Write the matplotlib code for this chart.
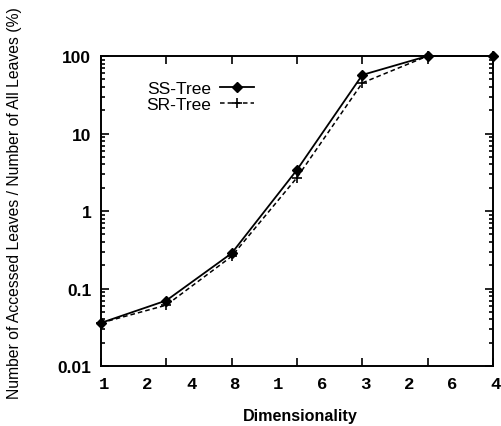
import numpy as np
import matplotlib.pyplot as plt
from matplotlib.ticker import LogLocator, NullFormatter

# leaf access ratio vs dimensionality
dims = [1, 2, 4, 8, 16, 32, 64]
ss_tree = [0.036, 0.070, 0.285, 3.4, 57, 100, 100]
sr_tree = [0.036, 0.061, 0.26, 2.7, 45, 100, 100]
ytick_vals = [0.01, 0.1, 1, 10, 100]
ytick_labels = ['0.01', '0.1', '1', '10', '100']

fig = plt.figure(figsize=(5.01, 4.27), dpi=100)
ax = fig.add_axes([0.2016, 0.1405, 0.7824, 0.726])

ax.plot(dims, ss_tree, color='black', lw=1.3, marker='D', ms=5,
        label='SS-Tree', clip_on=False, zorder=3)
ax.plot(dims, sr_tree, color='black', lw=1.1, ls=(0, (3, 2)), marker='+',
        ms=7, mew=1.2, label='SR-Tree', clip_on=False, zorder=3)

ax.set_xscale('log', base=2)
ax.set_yscale('log')
ax.set_xlim(1, 64)
ax.set_ylim(0.01, 100)

ax.set_xticks(dims)
ax.set_xticklabels([])
ax.xaxis.set_minor_locator(plt.NullLocator())
ax.set_yticks(ytick_vals)
ax.set_yticklabels(ytick_labels, fontsize=12.5, fontweight='bold',
                   family='Liberation Sans')
ax.yaxis.set_minor_locator(LogLocator(base=10, subs=np.arange(2, 10)))
ax.yaxis.set_minor_formatter(NullFormatter())
ax.tick_params(which='both', direction='in', top=True, right=True, width=1.2)
ax.tick_params(which='major', length=6, pad=7)
ax.tick_params(which='minor', length=3)
for s in ax.spines.values():
    s.set_linewidth(1.4)

# x tick digits spread evenly under the axis
chars = ''.join(str(d) for d in dims)
xs = np.linspace(104, 496, len(chars)) / 501
for c, x in zip(chars, xs):
    fig.text(x, 1 - 385 / 427, c, ha='center', va='center', fontsize=12.5,
             fontweight='bold', family='Liberation Mono')

fig.text(300 / 501, 1 - 417 / 427, 'Dimensionality', ha='center', va='center',
         fontsize=11.6, fontweight='bold', family='Liberation Sans')
fig.text(15 / 501, 1 - 203 / 427,
         'Number of Accessed Leaves / Number of All Leaves (%)',
         rotation=90, ha='center', va='center', fontsize=11.3,
         family='Liberation Sans')

ax.legend(loc='upper left', bbox_to_anchor=(0.075, 0.97), frameon=False,
          markerfirst=False, handlelength=2.0, handletextpad=0.5,
          labelspacing=0.05, prop={'family': 'Liberation Sans', 'size': 12.5})

fig.savefig('out.png', dpi=100)
